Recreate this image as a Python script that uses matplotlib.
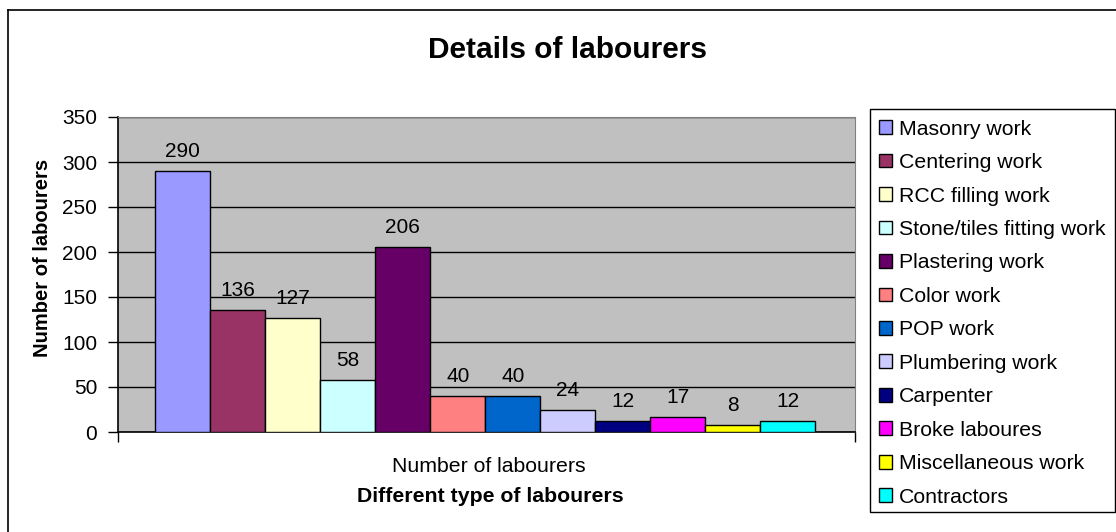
import matplotlib.pyplot as plt
from matplotlib.patches import Patch, Rectangle
from matplotlib.lines import Line2D

plt.rcParams['font.family'] = ['Liberation Sans', 'DejaVu Sans']

categories = ["Masonry work", "Centering work", "RCC filling work",
              "Stone/tiles fitting work", "Plastering work", "Color work",
              "POP work", "Plumbering work", "Carpenter", "Broke laboures",
              "Miscellaneous work", "Contractors"]
values = [290, 136, 127, 58, 206, 40, 40, 24, 12, 17, 8, 12]
colors = ["#9999FF", "#993366", "#FFFFCC", "#CCFFFF", "#660066", "#FF8080",
          "#0066CC", "#CCCCFF", "#000080", "#FF00FF", "#FFFF00", "#00FFFF"]
yticks = [0, 50, 100, 150, 200, 250, 300, 350]

W, H = 1116, 532
fs = 15
fig = plt.figure(figsize=(W / 100, H / 100), dpi=100)

# outer chart border (cropped at right and bottom)
fig.add_artist(Line2D([8 / W, 8 / W], [0, 1 - 10 / H], color="black", lw=1.2))
fig.add_artist(Line2D([8 / W, 1], [1 - 10 / H, 1 - 10 / H], color="black", lw=1.2))

ax = fig.add_axes([118 / W, (H - 432) / H, 737 / W, 315 / H])
ax.set_facecolor("#C0C0C0")

xs = list(range(len(values)))
ax.bar(xs, values, width=1.0, color=colors, edgecolor="black", linewidth=1, zorder=3)
for x, v in zip(xs, values):
    ax.text(x, v + 11, str(v), ha="center", va="bottom", fontsize=fs, zorder=4)

ax.set_xlim(-0.5 - 0.68, len(values) - 0.5 + 0.72)
ax.set_ylim(0, 350)
ax.set_yticks(yticks)
ax.yaxis.grid(True, color="black", lw=1)
ax.set_axisbelow(True)
ax.tick_params(axis="y", labelsize=fs, length=7, width=1, pad=8, direction="out")

ax.set_xticks([(len(values) - 1) / 2 + 0.06])
ax.set_xticklabels(["Number of labourers"], fontsize=15.3)
ax.tick_params(axis="x", length=0, pad=18)
ax.set_xticks(list(ax.get_xlim()), minor=True)
ax.tick_params(axis="x", which="minor", length=7, width=1, direction="out")

for s in ["top", "right"]:
    ax.spines[s].set_color("#808080")
for s in ["left", "bottom"]:
    ax.spines[s].set_color("black")
    ax.spines[s].set_linewidth(1.2)

ax.set_xlabel("Different type of labourers", fontsize=15.3, fontweight="bold")
ax.xaxis.set_label_coords(0.5047, -0.175)
ax.set_ylabel("Number of labourers", fontsize=14.5, fontweight="bold")
ax.yaxis.set_label_coords(-0.0895, 0.552)

fig.text(567 / W, 1 - 50 / H, "Details of labourers", ha="center", va="center",
         fontsize=21.5, fontweight="bold")

# legend box
fig.add_artist(Rectangle((870 / W, 1 - 512 / H), 245 / W, 403 / H,
                         transform=fig.transFigure, facecolor="white",
                         edgecolor="black", lw=1, zorder=0))
handles = [Patch(facecolor=c, edgecolor="black", lw=1) for c in colors]
leg = fig.legend(handles, categories, loc="upper left",
                 bbox_to_anchor=(868 / W, 1 - 109 / H), fontsize=15.3,
                 frameon=False, handlelength=0.62, handleheight=0.62,
                 handletextpad=0.35, labelspacing=0.68, borderpad=0.5,
                 borderaxespad=0)

fig.savefig("out.png", dpi=100)
plt.close(fig)
